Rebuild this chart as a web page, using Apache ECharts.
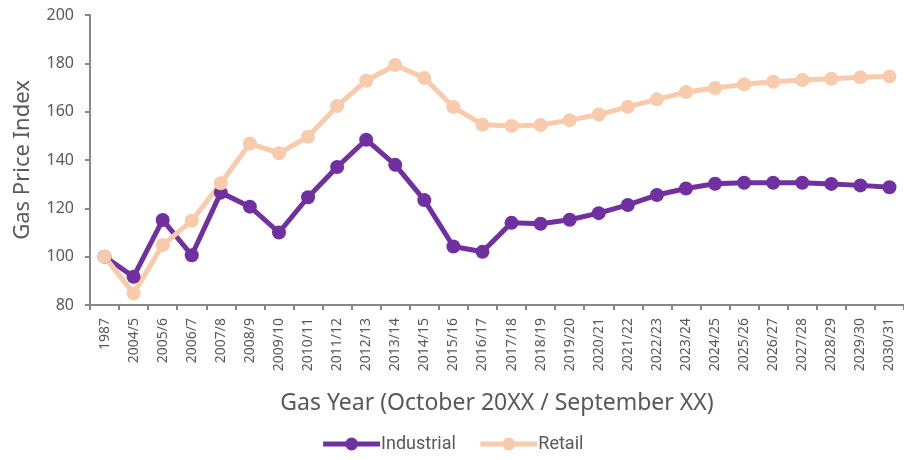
<!DOCTYPE html>
<html>
<head>
<meta charset="utf-8">
<script src="https://cdn.jsdelivr.net/npm/echarts@6/dist/echarts.min.js"></script>
<style>html,body{margin:0;padding:0;background:#fff}#c{width:904px;height:460px}</style>
</head>
<body>
<div id="c"></div>
<script>
const categories = ['1987','2004/5','2005/6','2006/7','2007/8','2008/9','2009/10','2010/11','2011/12','2012/13','2013/14','2014/15','2015/16','2016/17','2017/18','2018/19','2019/20','2020/21','2021/22','2022/23','2023/24','2024/25','2025/26','2026/27','2027/28','2028/29','2029/30','2030/31'];
const industrial = [100, 91.7, 115.2, 100.6, 126.5, 120.7, 110, 124.6, 137.1, 148.4, 138, 123.4, 104.2, 102, 114, 113.6, 115.3, 118, 121.4, 125.5, 128.2, 130.2, 130.6, 130.6, 130.6, 130.1, 129.5, 128.7];
const retail = [100, 84.8, 104.8, 114.9, 130.4, 146.8, 142.8, 149.6, 162.3, 172.8, 179.3, 173.9, 161.9, 154.6, 154.1, 154.5, 156.5, 158.8, 162, 165.1, 168.1, 169.8, 171.3, 172.4, 173.1, 173.6, 174.2, 174.6];
const yTicks = {min: 80, max: 200, interval: 20};

const chart = echarts.init(document.getElementById('c'), null, {renderer: 'canvas'});
const grey = '#878787';
const labelColor = '#595959';
chart.setOption({
  animation: false,
  grid: {left: 90, top: 15, width: 822, height: 290, containLabel: false},
  legend: {
    bottom: 2,
    left: 'center',
    itemWidth: 57,
    itemHeight: 16,
    itemGap: 22,
    lineStyle: {width: 5},
    textStyle: {fontFamily: 'Roboto', fontSize: 18, color: labelColor, padding: [0, 0, 0, -4]},
    data: ['Industrial', 'Retail']
  },
  xAxis: {
    type: 'category',
    data: categories,
    boundaryGap: true,
    name: 'Gas Year (October 20XX / September XX)',
    nameLocation: 'middle',
    nameGap: 87,
    nameTextStyle: {fontFamily: 'Noto Sans', fontSize: 23, color: labelColor},
    axisLine: {lineStyle: {color: grey, width: 2}},
    axisTick: {show: true, length: 5, lineStyle: {color: grey, width: 2}, alignWithLabel: false},
    axisLabel: {rotate: 90, interval: 0, fontFamily: 'Noto Sans', fontSize: 14, color: labelColor, margin: 13}
  },
  yAxis: {
    type: 'value',
    min: yTicks.min, max: yTicks.max, interval: yTicks.interval,
    name: 'Gas Price Index',
    nameLocation: 'middle',
    nameGap: 56,
    nameTextStyle: {fontFamily: 'Noto Sans', fontSize: 22, color: labelColor},
    axisLine: {show: true, lineStyle: {color: grey, width: 2}},
    axisTick: {show: true, length: 5, lineStyle: {color: grey, width: 2}},
    splitLine: {show: false},
    axisLabel: {fontFamily: 'Noto Sans', fontSize: 16, color: labelColor, margin: 16}
  },
  series: [
    {
      name: 'Industrial', type: 'line', data: industrial,
      symbol: 'circle', symbolSize: 14,
      lineStyle: {color: '#7030A0', width: 5},
      itemStyle: {color: '#7030A0'}
    },
    {
      name: 'Retail', type: 'line', data: retail,
      symbol: 'circle', symbolSize: 14,
      lineStyle: {color: '#F8CBAD', width: 5},
      itemStyle: {color: '#F8CBAD'}
    }
  ]
});
</script>
</body>
</html>
